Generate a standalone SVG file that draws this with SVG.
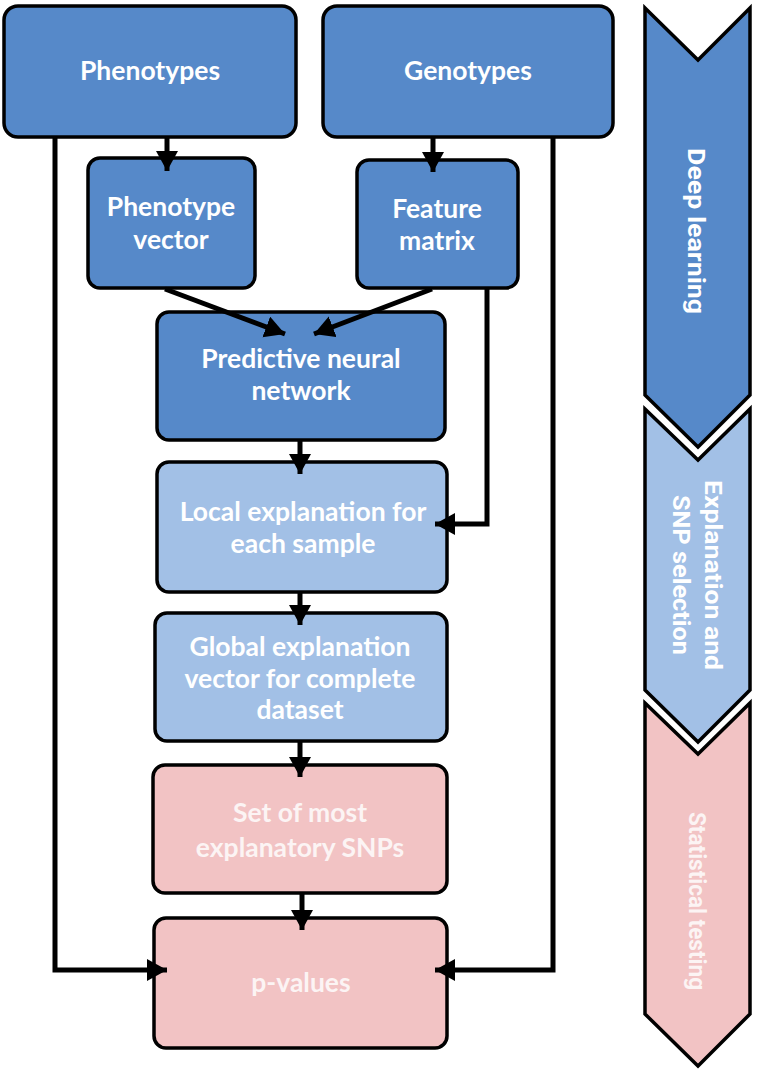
<svg xmlns="http://www.w3.org/2000/svg" width="757" height="1071" viewBox="0 0 757 1071">
<style>
.box{stroke:#000;stroke-width:3.5}
.dk{fill:#5689C9}
.lt{fill:#A2C0E6}
.pk{fill:#F2C3C4}
.t{font-family:Lato,"Open Sans","Liberation Sans",sans-serif;font-weight:700;font-size:26.5px;fill:#fff;text-anchor:middle}
.tp{fill:#FCF4F4}
.c{fill:none;stroke:#000;stroke-width:5}
.chev{stroke:#000;stroke-width:3.5;stroke-linejoin:miter}
.ct{font-family:Roboto,"Liberation Sans",sans-serif;font-weight:700;font-size:24px;fill:#fff;text-anchor:middle}
</style>
<defs>
<marker id="ah" markerUnits="userSpaceOnUse" markerWidth="24" markerHeight="24" refX="20" refY="11" orient="auto">
<path d="M0,0 L20,11 L0,22 z" fill="#000"/>
</marker>
</defs>
<rect width="757" height="1071" fill="#fff"/>

<g id="phenotypes"><rect class="box dk" x="4" y="6" width="292" height="131" rx="14"/><text class="t" x="150" y="80">Phenotypes</text></g>
<g id="genotypes"><rect class="box dk" x="323" y="6" width="290" height="131" rx="14"/><text class="t" x="468" y="80">Genotypes</text></g>
<g id="phenotype-vector"><rect class="box dk" x="88" y="158" width="167" height="130" rx="12"/><text class="t" x="171" y="216">Phenotype</text><text class="t" x="171" y="249">vector</text></g>
<g id="feature-matrix"><rect class="box dk" x="357" y="160" width="161" height="128" rx="12"/><text class="t" x="437" y="218">Feature</text><text class="t" x="437" y="250">matrix</text></g>
<g id="predictive-nn"><rect class="box dk" x="157" y="312" width="288" height="128" rx="12"/><text class="t" x="301" y="368">Predictive neural</text><text class="t" x="301" y="400">network</text></g>
<g id="local-explanation"><rect class="box lt" x="157" y="462" width="290" height="130" rx="12"/><text class="t" x="303" y="521">Local explanation for</text><text class="t" x="303" y="553">each sample</text></g>
<g id="global-explanation"><rect class="box lt" x="155" y="613" width="292" height="128" rx="12"/><text class="t" x="300" y="656">Global explanation</text><text class="t" x="300" y="688">vector for complete</text><text class="t" x="300" y="719">dataset</text></g>
<g id="set-snps"><rect class="box pk" x="153" y="765" width="294" height="128" rx="12"/><text class="t tp" x="300" y="822">Set of most</text><text class="t tp" x="300" y="857">explanatory SNPs</text></g>
<g id="p-values"><rect class="box pk" x="154" y="918" width="293" height="130" rx="12"/><text class="t tp" x="301" y="992">p-values</text></g>

<g id="connectors">
<line class="c" x1="167" y1="137" x2="167" y2="171" marker-end="url(#ah)"/>
<line class="c" x1="433" y1="137" x2="433" y2="172" marker-end="url(#ah)"/>
<line class="c" x1="165" y1="289" x2="285" y2="334" marker-end="url(#ah)"/>
<line class="c" x1="432" y1="289" x2="314" y2="334" marker-end="url(#ah)"/>
<line class="c" x1="300" y1="440" x2="300" y2="474" marker-end="url(#ah)"/>
<line class="c" x1="300" y1="592" x2="300" y2="625" marker-end="url(#ah)"/>
<line class="c" x1="300" y1="741" x2="300" y2="777" marker-end="url(#ah)"/>
<line class="c" x1="302" y1="893" x2="302" y2="930" marker-end="url(#ah)"/>
<polyline class="c" points="487,288 487,524 435,524" marker-end="url(#ah)"/>
<polyline class="c" points="55,137 55,970 167,970" marker-end="url(#ah)"/>
<polyline class="c" points="553,137 553,970 435,970" marker-end="url(#ah)"/>
</g>

<g id="phase-deep-learning"><polygon class="chev dk" points="645,8 698,60 750,8 750,395 698,447 645,395"/><text class="ct" transform="translate(697,231) rotate(90)" y="9" textLength="166" lengthAdjust="spacingAndGlyphs">Deep learning</text></g>
<g id="phase-explanation"><polygon class="chev lt" points="645,409 698,460 750,409 750,690 698,742 645,690"/><text class="ct" transform="translate(697,575) rotate(90)"><tspan x="0" y="-8" textLength="190" lengthAdjust="spacingAndGlyphs">Explanation and</tspan><tspan x="0" y="24" textLength="160" lengthAdjust="spacingAndGlyphs">SNP selection</tspan></text></g>
<g id="phase-statistical"><polygon class="chev pk" points="645,703 698,754 750,703 750,1014 698,1066 645,1014"/><text class="ct" transform="translate(697,901) rotate(90)" y="8" textLength="178" lengthAdjust="spacingAndGlyphs" style="fill:#FCF4F4">Statistical testing</text></g>
</svg>
